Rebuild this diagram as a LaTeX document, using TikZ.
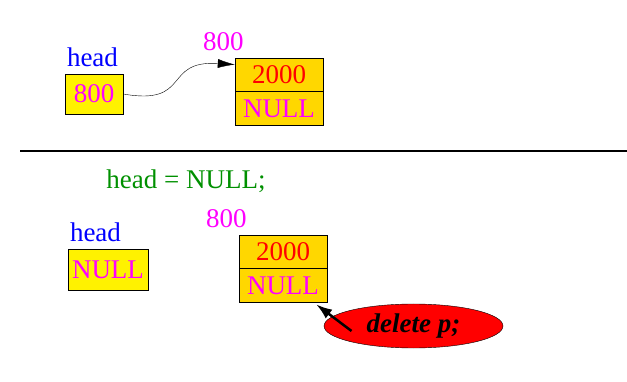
\documentclass[tikz,border=0pt]{standalone}
\usepackage{fontspec}
\setmainfont{Liberation Serif}
\usetikzlibrary{arrows.meta,positioning,shapes.geometric}
\definecolor{addr}{HTML}{FF00FF}
\definecolor{gold}{HTML}{FFD700}
\definecolor{figgreen}{HTML}{009000}

\begin{document}
\begin{tikzpicture}[x=1pt,y=-1pt,>=Latex,
  every node/.style={font=\fontsize{27}{31}\selectfont},
  lbl/.style={inner sep=0pt},
  ptrbox/.style={draw,fill=yellow,text=addr,minimum width=58pt,minimum height=40pt,inner sep=0pt,inner xsep=4pt},
  cell/.style={draw,fill=gold,minimum width=88pt,minimum height=33.5pt,inner sep=0pt}]
\useasboundingbox (0,0) rectangle (627,382);
% before
\node[ptrbox] (hd) at (94,94) {800};
\node[lbl,text=blue,above right=7pt and 2pt of hd.north west] (hdl) {head};
\node[cell,text=red] (n1) at (279,74.5) {2000};
\node[cell,text=addr,below=0pt of n1] (n1n) {NULL};
\node[lbl,text=addr,above right=7pt and -32pt of n1.north west] (n1a) {800};
\draw[-{Latex[length=17pt,width=9pt]}] (hd.east) .. controls (192,106) and (162,60) .. ([yshift=-7pt]n1.north west);
\draw[line width=2.5pt] (20,151) -- (627,151);
% after
\node[lbl,text=figgreen] (stmt) at (186,181) {head = NULL;};
\node[ptrbox,minimum height=41pt] (hd2) at (108,269.5) {NULL};
\node[lbl,text=blue,above right=7pt and 2pt of hd2.north west] (hdl2) {head};
\node[cell,text=red] (n2) at (283,251.5) {2000};
\node[cell,text=addr,below=0pt of n2] (n2n) {NULL};
\node[lbl,text=addr,above right=7pt and -33pt of n2.north west] (n2a) {800};
\node[ellipse,draw,fill=red,minimum width=179pt,minimum height=44pt,inner sep=0pt,
  font=\fontsize{27}{31}\selectfont\bfseries\itshape] (del) at (413.5,326) {delete p;};
\draw[-{Latex[length=16pt,width=11pt]},line width=2.5pt] ([shift={(-62pt,-5pt)}]del.center) -- ([xshift=-11pt,yshift=-2pt]n2n.south east);
\end{tikzpicture}
\end{document}
